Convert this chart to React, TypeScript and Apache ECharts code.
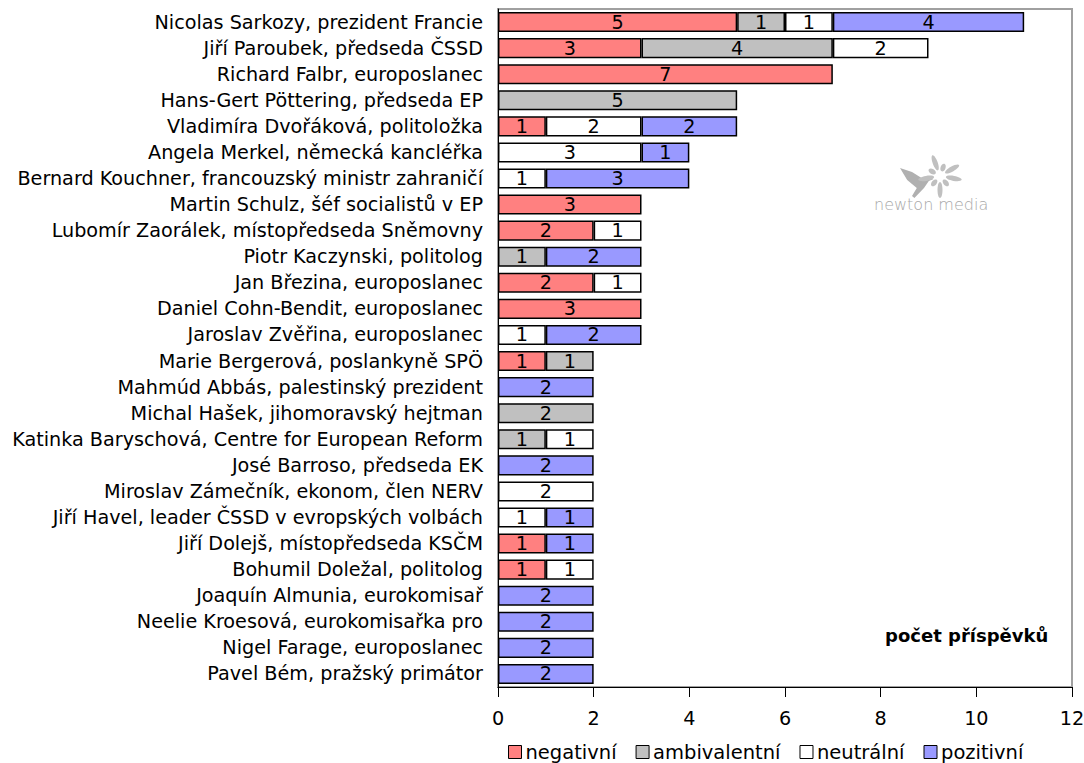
import React, { useEffect, useRef } from "react";
import * as echarts from "echarts";

const categories = [
  "Nicolas Sarkozy, prezident Francie",
  "Jiří Paroubek, předseda ČSSD",
  "Richard Falbr, europoslanec",
  "Hans-Gert Pöttering, předseda EP",
  "Vladimíra Dvořáková, politoložka",
  "Angela Merkel, německá kancléřka",
  "Bernard Kouchner, francouzský ministr zahraničí",
  "Martin Schulz, šéf socialistů v EP",
  "Lubomír Zaorálek, místopředseda Sněmovny",
  "Piotr Kaczynski, politolog",
  "Jan Březina, europoslanec",
  "Daniel Cohn-Bendit, europoslanec",
  "Jaroslav Zvěřina, europoslanec",
  "Marie Bergerová, poslankyně SPÖ",
  "Mahmúd Abbás, palestinský prezident",
  "Michal Hašek, jihomoravský hejtman",
  "Katinka Baryschová, Centre for European Reform",
  "José Barroso, předseda EK",
  "Miroslav Zámečník, ekonom, člen NERV",
  "Jiří Havel, leader ČSSD v evropských volbách",
  "Jiří Dolejš, místopředseda KSČM",
  "Bohumil Doležal, politolog",
  "Joaquín Almunia, eurokomisař",
  "Neelie Kroesová, eurokomisařka pro",
  "Nigel Farage, europoslanec",
  "Pavel Bém, pražský primátor",
];

const negativni = [5, 3, 7, 0, 1, 0, 0, 3, 2, 0, 2, 3, 0, 1, 0, 0, 0, 0, 0, 0, 1, 1, 0, 0, 0, 0];
const ambivalentni = [1, 4, 0, 5, 0, 0, 0, 0, 0, 1, 0, 0, 0, 1, 0, 2, 1, 0, 0, 0, 0, 0, 0, 0, 0, 0];
const neutralni = [1, 2, 0, 0, 2, 3, 1, 0, 1, 0, 1, 0, 1, 0, 0, 0, 1, 0, 2, 1, 0, 1, 0, 0, 0, 0];
const pozitivni = [4, 0, 0, 0, 2, 1, 3, 0, 0, 2, 0, 0, 2, 0, 2, 0, 0, 2, 0, 1, 1, 0, 2, 2, 2, 2];

const seriesNames = ["negativní", "ambivalentní", "neutrální", "pozitivní"];
const seriesColors = ["#FF8080", "#C0C0C0", "#FFFFFF", "#9999FF"];
const seriesData = [negativni, ambivalentni, neutralni, pozitivni];

const FONT = "DejaVu Sans";
const FS = 19.2;

const birdPath =
  "M0 0 L10 4 L18 10 L24 9 L28 11 L24 13 L20 20 L12 30 L10 28 L14 20 L6 12 Z";

export default function App() {
  const ref = useRef<HTMLDivElement>(null);
  useEffect(() => {
    if (!ref.current) return;
    try {
      echarts.graphic.registerShape("bird", echarts.graphic.extendPath(birdPath as any, {}) as any);
    } catch (e) {}
    const chart = echarts.init(ref.current, null, { renderer: "svg" });
    const option: any = {
      animation: false,
      textStyle: { fontFamily: FONT },
      grid: {
        left: 498,
        right: 12,
        top: 9,
        bottom: 76,
        outerBoundsMode: "none",
        containLabel: false,
        show: true,
        borderColor: "#A0A0A0",
        borderWidth: 2,
        backgroundColor: "transparent",
      },
      legend: {
        top: 742,
        left: 508,
        padding: 0,
        itemWidth: 13,
        itemHeight: 13,
        itemGap: 19,
        icon: "rect",
        textStyle: {
          fontFamily: FONT,
          fontSize: 19.5,
          lineHeight: 20,
          color: "#000",
          padding: [0, 0, 0, -1],
        },
        data: seriesNames.map((n) => ({ name: n, itemStyle: { borderColor: "#000", borderWidth: 1 } })),
      },
      xAxis: {
        type: "value",
        min: 0,
        max: 12,
        interval: 2,
        axisLine: { show: true, lineStyle: { color: "#000", width: 1 } },
        axisTick: { show: true, length: 10, lineStyle: { color: "#000" } },
        axisLabel: { color: "#000", fontSize: FS, fontFamily: FONT, margin: 22 },
        splitLine: { show: false },
      },
      yAxis: {
        type: "category",
        inverse: true,
        data: categories,
        axisLine: { show: true, lineStyle: { color: "#000", width: 1 } },
        axisTick: { show: false },
        axisLabel: { color: "#000", fontSize: FS, fontFamily: FONT, margin: 15 },
      },
      series: seriesNames.map((name, i) => ({
        name,
        type: "bar",
        stack: "total",
        barCategoryGap: "23%",
        itemStyle: { color: seriesColors[i], borderColor: "#000", borderWidth: 1.5 },
        label: {
          show: true,
          position: "inside",
          color: "#000",
          fontSize: FS,
          fontFamily: FONT,
          formatter: (p: any) => (p.value ? String(p.value) : ""),
        },
        data: seriesData[i].map((v) => (v === 0 ? null : v)),
      })),
      graphic: [
        {
          type: "text",
          left: 885,
          top: 626,
          style: { text: "počet příspěvků", font: `bold 18px ${FONT}`, fill: "#000" },
        },
        {
          type: "text",
          left: 874,
          top: 196,
          style: { text: "newton media", font: `lighter 16px ${FONT}`, fill: "#A8A8A8" },
        },
        {
          type: "bird",
          x: 900,
          y: 168,
          scaleX: 1.2,
          scaleY: 1.0,
          style: { fill: "#B0B0B0" },
        },
        {
          type: "group",
          x: 940,
          y: 176,
          children: [10, 50, 90, 130, 170, 210, 250, 290, 330].map((deg, k) => ({
            type: "ellipse",
            rotation: (-deg * Math.PI) / 180,
            shape: { cx: k % 2 === 0 ? 14 : 9, cy: 0, rx: k % 2 === 0 ? 8 : 4, ry: 2.5 },
            style: { fill: "#C0C0C0" },
          })),
        },
      ],
    };
    chart.setOption(option);
    return () => chart.dispose();
  }, []);
  return (
    <div
      ref={ref}
      style={{ position: "absolute", left: 0, top: 0, width: 1084, height: 763, overflow: "hidden" }}
    />
  );
}
